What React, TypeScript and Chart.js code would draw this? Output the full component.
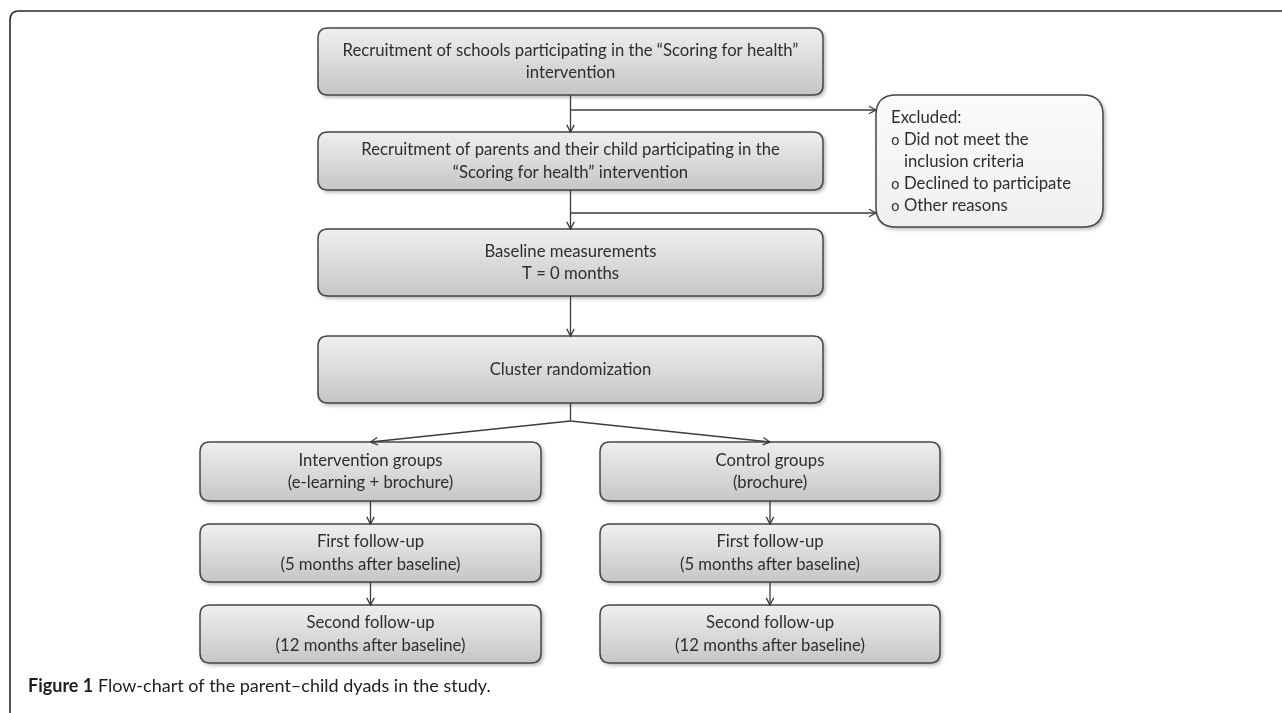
import { useEffect, useRef } from "react";
import { Chart, registerables } from "chart.js";

Chart.register(...registerables);

const PAGE_W = 1282;
const PAGE_H = 713;

// ---- flow-chart content ----
const BOX_LABELS: string[][] = [
  ["Recruitment of schools participating in the \u201cScoring for health\u201d", "intervention"],
  ["Recruitment of parents and their child participating in the", "\u201cScoring for health\u201d intervention"],
  ["Baseline measurements", "T = 0 months"],
  ["Cluster randomization"],
  ["Intervention groups", "(e-learning + brochure)"],
  ["First follow-up", "(5 months after baseline)"],
  ["Second follow-up", "(12 months after baseline)"],
  ["Control groups", "(brochure)"],
  ["First follow-up", "(5 months after baseline)"],
  ["Second follow-up", "(12 months after baseline)"],
];
// box extents in chart units
const BOX_X0 = [318, 318, 318, 318, 200, 200, 200, 600, 600, 600];
const BOX_X1 = [823, 823, 823, 823, 541, 541, 541, 940, 940, 940];
const BOX_Y0 = [28, 132, 229, 336, 442, 524, 605, 442, 524, 605];
const BOX_Y1 = [95, 190, 296, 403, 501, 582, 663, 501, 582, 663];

const EXCLUDED_TITLE = "Excluded:";
const EXCLUDED_REASONS: string[][] = [
  ["Did not meet the", "inclusion criteria"],
  ["Declined to participate"],
  ["Other reasons"],
];
const EXCL_X = [876, 1103];
const EXCL_Y = [95, 227];

const CAPTION_BOLD = "Figure 1";
const CAPTION_TEXT = " Flow-chart of the parent\u2013child dyads in the study.";

// connectors
const CONN_X0 = [570.5, 570.5, 570.5, 570.5, 570.5, 570.5, 570.5, 570.5, 370.5, 370.5, 770, 770];
const CONN_Y0 = [95, 190, 296, 110, 213, 403, 421, 421, 501, 582, 501, 582];
const CONN_X1 = [570.5, 570.5, 570.5, 876, 876, 570.5, 370.5, 770, 370.5, 370.5, 770, 770];
const CONN_Y1 = [132, 229, 336, 110, 213, 421, 442, 442, 524, 605, 524, 605];
const CONN_ARROW = [true, true, true, true, true, false, true, true, true, true, true, true];

const LINE_COLOR = "#3c3c3c";
const TEXT_COLOR = "#2e2e2e";
const BOX_FONT = "16.7px Lato, 'Open Sans', sans-serif";

function roundRectPath(ctx: CanvasRenderingContext2D, x: number, y: number, w: number, h: number, r: number) {
  ctx.beginPath();
  ctx.moveTo(x + r, y);
  ctx.lineTo(x + w - r, y);
  ctx.quadraticCurveTo(x + w, y, x + w, y + r);
  ctx.lineTo(x + w, y + h - r);
  ctx.quadraticCurveTo(x + w, y + h, x + w - r, y + h);
  ctx.lineTo(x + r, y + h);
  ctx.quadraticCurveTo(x, y + h, x, y + h - r);
  ctx.lineTo(x, y + r);
  ctx.quadraticCurveTo(x, y, x + r, y);
  ctx.closePath();
}

function drawBox(
  ctx: CanvasRenderingContext2D,
  x0: number, y0: number, x1: number, y1: number,
  r: number, top: string, bottom: string
) {
  const w = x1 - x0, h = y1 - y0;
  const g = ctx.createLinearGradient(0, y0, 0, y1);
  g.addColorStop(0, top);
  g.addColorStop(1, bottom);
  ctx.save();
  ctx.shadowColor = "rgba(0,0,0,0.35)";
  ctx.shadowBlur = 4;
  ctx.shadowOffsetX = 2;
  ctx.shadowOffsetY = 2;
  roundRectPath(ctx, x0, y0, w, h, r);
  ctx.fillStyle = g;
  ctx.fill();
  ctx.restore();
  ctx.save();
  roundRectPath(ctx, x0, y0, w, h, r);
  ctx.strokeStyle = "#474747";
  ctx.lineWidth = 1.5;
  ctx.stroke();
  ctx.restore();
}

const flowPlugin = {
  id: "flowchart",
  beforeDatasetsDraw(chart: any) {
    const ctx: CanvasRenderingContext2D = chart.ctx;
    const X = (v: number) => chart.scales.x.getPixelForValue(v);
    const Y = (v: number) => chart.scales.y.getPixelForValue(v);

    // outer frame (top + left, rounded corner)
    ctx.save();
    ctx.strokeStyle = "#2a2a2a";
    ctx.lineWidth = 1.6;
    const fx = X(10), fy = Y(11), fr = 9;
    ctx.beginPath();
    ctx.moveTo(fx, Y(PAGE_H));
    ctx.lineTo(fx, fy + fr);
    ctx.quadraticCurveTo(fx, fy, fx + fr, fy);
    ctx.lineTo(X(PAGE_W), fy);
    ctx.stroke();
    ctx.restore();

    for (let i = 0; i < BOX_LABELS.length; i++) {
      drawBox(ctx, X(BOX_X0[i]), Y(BOX_Y0[i]), X(BOX_X1[i]), Y(BOX_Y1[i]), 10, "#efefef", "#c6c6c6");
    }
    drawBox(ctx, X(EXCL_X[0]), Y(EXCL_Y[0]), X(EXCL_X[1]), Y(EXCL_Y[1]), 20, "#fbfbfb", "#efefef");
  },
  afterDatasetsDraw(chart: any) {
    const ctx: CanvasRenderingContext2D = chart.ctx;
    const X = (v: number) => chart.scales.x.getPixelForValue(v);
    const Y = (v: number) => chart.scales.y.getPixelForValue(v);

    // arrowheads (open V)
    ctx.save();
    ctx.strokeStyle = LINE_COLOR;
    ctx.lineWidth = 1.3;
    for (let i = 0; i < CONN_ARROW.length; i++) {
      if (!CONN_ARROW[i]) continue;
      const ax = X(CONN_X1[i]), ay = Y(CONN_Y1[i]);
      const bx = X(CONN_X0[i]), by = Y(CONN_Y0[i]);
      const ang = Math.atan2(ay - by, ax - bx);
      const len = 8, spread = Math.PI / 6.5;
      ctx.beginPath();
      ctx.moveTo(ax - len * Math.cos(ang - spread), ay - len * Math.sin(ang - spread));
      ctx.lineTo(ax, ay);
      ctx.lineTo(ax - len * Math.cos(ang + spread), ay - len * Math.sin(ang + spread));
      ctx.stroke();
    }
    ctx.restore();

    // box labels
    ctx.save();
    ctx.fillStyle = TEXT_COLOR;
    ctx.font = BOX_FONT;
    ctx.textAlign = "center";
    ctx.textBaseline = "middle";
    const lh = 22.5;
    for (let i = 0; i < BOX_LABELS.length; i++) {
      const lines = BOX_LABELS[i];
      const cx = (X(BOX_X0[i]) + X(BOX_X1[i])) / 2;
      const cy = (Y(BOX_Y0[i]) + Y(BOX_Y1[i])) / 2;
      const start = cy - ((lines.length - 1) * lh) / 2;
      lines.forEach((t, k) => ctx.fillText(t, cx, start + k * lh));
    }

    // excluded box text
    ctx.textAlign = "left";
    const tx = X(EXCL_X[0]) + 15;
    let ty = Y(118);
    ctx.fillText(EXCLUDED_TITLE, tx, ty);
    const elh = 22;
    for (const reason of EXCLUDED_REASONS) {
      reason.forEach((t, k) => {
        ty += elh;
        if (k === 0) {
          ctx.save();
          ctx.font = "14px 'DejaVu Sans', sans-serif";
          ctx.fillText("o", tx, ty + 1);
          ctx.restore();
        }
        ctx.fillText(t, tx + 13, ty);
      });
    }

    // caption
    ctx.fillStyle = "#1e1e1e";
    ctx.textBaseline = "middle";
    ctx.font = "bold 18px Lato, 'Open Sans', sans-serif";
    const capX = X(28), capY = Y(686);
    ctx.fillText(CAPTION_BOLD, capX, capY);
    const bw = ctx.measureText(CAPTION_BOLD).width;
    ctx.font = "18px Lato, 'Open Sans', sans-serif";
    ctx.fillText(CAPTION_TEXT, capX + bw, capY);
    ctx.restore();
  },
};

export default function App() {
  const ref = useRef<HTMLCanvasElement | null>(null);
  useEffect(() => {
    if (!ref.current) return;
    const datasets = CONN_X0.map((_, i) => ({
      data: [
        { x: CONN_X0[i], y: CONN_Y0[i] },
        { x: CONN_X1[i], y: CONN_Y1[i] },
      ],
      showLine: true,
      borderColor: LINE_COLOR,
      borderWidth: 1.3,
      pointRadius: 0,
      fill: false,
    }));
    const chart = new Chart(ref.current, {
      type: "scatter",
      data: { datasets },
      options: {
        animation: false,
        responsive: false,
        events: [],
        layout: { padding: 0 },
        plugins: { legend: { display: false }, tooltip: { enabled: false } },
        scales: {
          x: { type: "linear", min: 0, max: PAGE_W, display: false },
          y: { type: "linear", min: 0, max: PAGE_H, reverse: true, display: false },
        },
      },
      plugins: [flowPlugin],
    } as any);
    return () => chart.destroy();
  }, []);
  return (
    <div style={{ position: "absolute", left: 0, top: 0, width: PAGE_W, height: PAGE_H, background: "#fff" }}>
      <canvas ref={ref} width={PAGE_W} height={PAGE_H} style={{ display: "block" }} />
    </div>
  );
}
